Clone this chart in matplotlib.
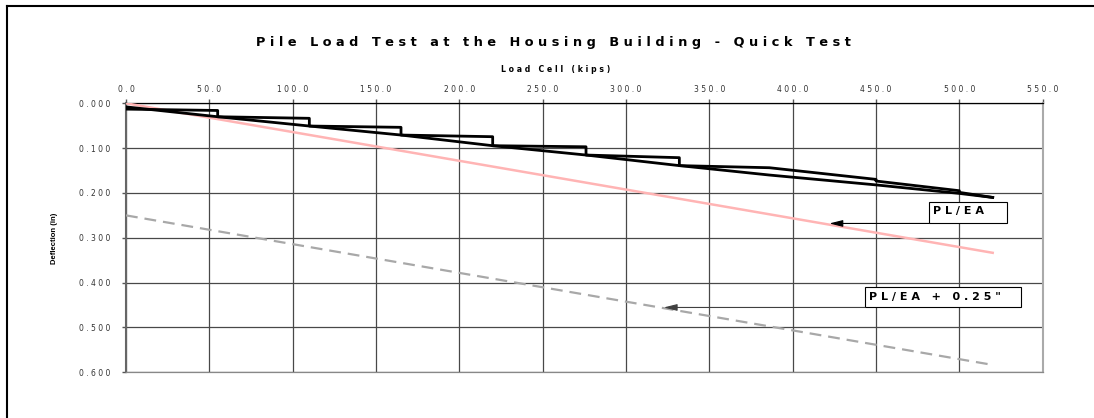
import matplotlib
matplotlib.use('Agg')
import matplotlib.pyplot as plt
from matplotlib.patches import Rectangle
from matplotlib.lines import Line2D
import numpy as np

# load test readings (kips, in)
load_steps = [0, 55, 55, 110, 110, 165, 165, 220, 220, 276, 276, 332, 332, 386, 450, 450, 500, 500, 520]
defl_steps = [0.013, 0.016, 0.030, 0.0335, 0.0507, 0.0536, 0.0708, 0.0745, 0.0946, 0.097, 0.1154, 0.1213,
              0.139, 0.1437, 0.1697, 0.1734, 0.195, 0.1987, 0.210]

load_end = [0, 55, 110, 165, 220, 276, 332, 386, 450, 500, 520]
defl_end = [0.008, 0.030, 0.0507, 0.0708, 0.0946, 0.1154, 0.139, 0.160, 0.182, 0.201, 0.210]

# elastic compression lines
pl_load = [0, 520]
pl_defl = [0.0, 0.3335]
pl_off_defl = [0.25, 0.5835]

x_ticks = np.arange(0, 551, 50)
y_ticks = np.arange(0, 0.61, 0.1)

title = 'Pile Load Test at the Housing Building - Quick Test'
x_label = 'Load Cell (kips)'
y_label = 'Deflection (in)'
note1 = 'PL/EA'
note2 = 'PL/EA + 0.25"'


def spaced(s):
    return ' '.join(s)


plt.rcParams['lines.scale_dashes'] = False

W, H = 1094, 418
fig = plt.figure(figsize=(W / 100, H / 100), dpi=100)
ax = fig.add_axes([126 / W, 1 - 372.3 / H, (1042.7 - 126) / W, (372.3 - 103.3) / H])

ax.plot(load_steps, defl_steps, color='black', lw=2, zorder=4)
ax.plot(load_end, defl_end, color='black', lw=2, zorder=4)
ax.plot(pl_load, pl_defl, color='#ffb4b4', lw=1.8, zorder=3)
ax.plot(pl_load, pl_off_defl, color='#a8a8a8', lw=1.6, dashes=(8.5, 5), zorder=3)

ax.set_xlim(0, 550)
ax.set_ylim(0.6, 0)
ax.xaxis.tick_top()
ax.set_xticks(x_ticks)
ax.set_xticklabels([spaced(f'{v:.1f}') for v in x_ticks])
ax.set_yticks(y_ticks)
ax.set_yticklabels([spaced(f'{v:.3f}') for v in y_ticks])
ax.tick_params(axis='both', direction='out', length=3, width=1, color='#555555',
               labelsize=5.5, labelcolor='#333333')
ax.tick_params(axis='x', pad=4)
ax.tick_params(axis='y', pad=8)
ax.grid(color='#484848', lw=0.9)
ax.set_axisbelow(True)

ax.spines['left'].set_color('#666666')
ax.spines['left'].set_linewidth(1.5)
ax.spines['top'].set_color('black')
ax.spines['top'].set_linewidth(0.9)
ax.spines['right'].set_color('#aaaaaa')
ax.spines['right'].set_linewidth(1.5)
ax.spines['bottom'].set_color('#888888')
ax.spines['bottom'].set_linewidth(0.9)

fig.text(553.8 / W, 1 - 42.3 / H, spaced(title), ha='center', va='center',
         fontsize=9.3, fontweight='bold')
fig.text(555.6 / W, 1 - 69.3 / H, spaced(x_label), ha='center', va='center',
         fontsize=5.6, fontweight='bold')
fig.text(54.4 / W, 1 - 238 / H, y_label, ha='center', va='center', rotation=90,
         fontsize=5.5, fontweight='bold', family='Liberation Sans')

# annotation boxes with arrows
ax.add_patch(Rectangle((481.8, 0.2196), 47, 0.0483, facecolor='white', edgecolor='black',
                       lw=0.8, zorder=5))
ax.text(484.4, 0.2397, spaced(note1), ha='left', va='center', fontsize=8,
        fontweight='bold', zorder=6)
ax.annotate('', xy=(422, 0.268), xytext=(481.8, 0.268),
            arrowprops=dict(arrowstyle='-|>,head_length=0.8,head_width=0.2', color='black',
                            lw=0.8, mutation_scale=10, shrinkA=0, shrinkB=0), zorder=5)

ax.add_patch(Rectangle((443.4, 0.4107), 93.8, 0.0447, facecolor='white', edgecolor='black',
                       lw=0.8, zorder=5))
ax.text(445.8, 0.4324, spaced(note2), ha='left', va='center', fontsize=8,
        fontweight='bold', zorder=6)
ax.annotate('', xy=(322.6, 0.4554), xytext=(443.4, 0.4554),
            arrowprops=dict(arrowstyle='-|>,head_length=0.8,head_width=0.2', color='#404040',
                            lw=0.8, mutation_scale=10, shrinkA=0, shrinkB=0), zorder=5)

# chart frame (left and top edges visible)
fig.add_artist(Line2D([6.5 / W, 6.5 / W], [0, 1 - 5.5 / H], transform=fig.transFigure,
                      color='black', lw=1.5))
fig.add_artist(Line2D([6.5 / W, 1], [1 - 5.5 / H, 1 - 5.5 / H], transform=fig.transFigure,
                      color='black', lw=1.5))

fig.savefig('out.png', dpi=100)
